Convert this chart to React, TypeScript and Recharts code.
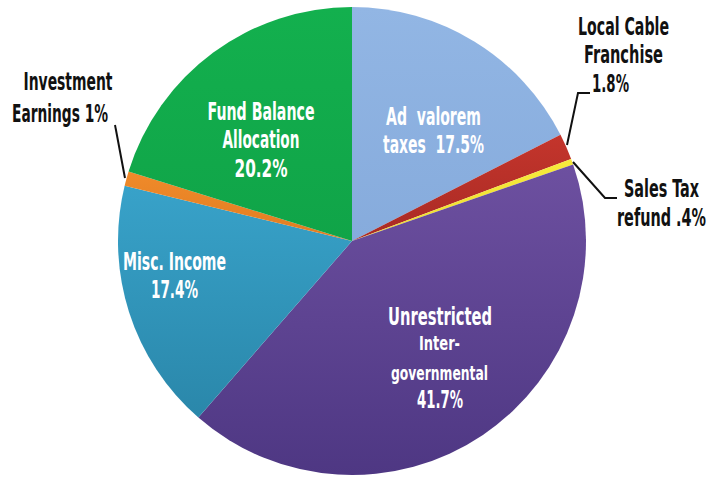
import React from "react";
import { PieChart, Pie, Cell } from "recharts";

const categories = [
  "Ad valorem taxes",
  "Local Cable Franchise",
  "Sales Tax refund",
  "Unrestricted Intergovernmental",
  "Misc. Income",
  "Investment Earnings",
  "Fund Balance Allocation",
];
const values = [17.5, 1.8, 0.4, 41.7, 17.4, 1, 20.2];
const labelLines: string[][] = [
  ["Ad  valorem", "taxes  17.5%"],
  ["Local Cable", "Franchise", "1.8%"],
  ["Sales Tax", "refund .4%"],
  ["Unrestricted", "Inter-", "governmental", "41.7%"],
  ["Misc. Income", "17.4%"],
  ["Investment", "Earnings 1%"],
  ["Fund Balance", "Allocation", "20.2%"],
];

const data = categories.map((name, i) => ({ name, value: values[i] }));

// styles & layout (relative to pie centre)
const colorsTop = ["#92b6e4", "#c4352c", "#f7ea3c", "#6d50a0", "#38a2c9", "#f08a2a", "#13b04e"];
const colorsBottom = ["#86abdc", "#a82a24", "#eedd30", "#4e3783", "#2a87aa", "#e07d22", "#10a448"];
const textColors = ["#fff", "#111", "#111", "#fff", "#fff", "#111", "#fff"];

type L = { dx: number; dy: number; w: number; fs: number };
const layout: L[][] = [
  [
    { dx: 81.5, dy: -116, w: 95, fs: 24 },
    { dx: 81.5, dy: -88, w: 101, fs: 24 },
  ],
  [
    { dx: 271.5, dy: -206, w: 91, fs: 24 },
    { dx: 271.5, dy: -178, w: 79, fs: 24 },
    { dx: 258.5, dy: -149, w: 37, fs: 24 },
  ],
  [
    { dx: 309.5, dy: -44, w: 75, fs: 24 },
    { dx: 309.5, dy: -15, w: 89, fs: 24 },
  ],
  [
    { dx: 88, dy: 84, w: 104, fs: 24 },
    { dx: 87.5, dy: 109, w: 41, fs: 20 },
    { dx: 87.5, dy: 139, w: 97, fs: 20 },
    { dx: 88, dy: 167, w: 46, fs: 24 },
  ],
  [
    { dx: -177.5, dy: 29, w: 103, fs: 24 },
    { dx: -177.5, dy: 57, w: 47, fs: 24 },
  ],
  [
    { dx: -284, dy: -151, w: 89, fs: 24 },
    { dx: -292, dy: -119, w: 96, fs: 24 },
  ],
  [
    { dx: -91, dy: -121, w: 107, fs: 24 },
    { dx: -91, dy: -93, w: 77, fs: 24 },
    { dx: -91, dy: -64, w: 53, fs: 24 },
  ],
];
const leaders: Record<number, number[][]> = {
  1: [[238, -148], [226, -148], [215, -96]],
  2: [[221, -79], [253, -43], [265, -43]],
  5: [[-237, -116], [-227, -63]],
};

const FONT =
  "'Liberation Sans Narrow', 'Arial Narrow', 'DejaVu Sans Condensed', 'Liberation Sans', sans-serif";

const renderLabel = (props: any) => {
  const { cx, cy, index } = props;
  const lines = labelLines[index];
  const lay = layout[index];
  const lead = leaders[index];
  return (
    <g key={`lbl-${index}`}>
      {lead && (
        <polyline
          points={lead.map(([x, y]) => `${cx + x},${cy + y}`).join(" ")}
          fill="none"
          stroke="#111"
          strokeWidth={2}
        />
      )}
      {lines.map((t, j) => (
        <text
          key={j}
          x={cx + lay[j].dx}
          y={cy + lay[j].dy}
          textAnchor="middle"
          fill={textColors[index]}
          fontFamily={FONT}
          fontWeight="bold"
          fontSize={lay[j].fs}
          textLength={lay[j].w}
          lengthAdjust="spacingAndGlyphs"
          style={{ whiteSpace: "pre" }}
        >
          {t}
        </text>
      ))}
    </g>
  );
};

export default function App() {
  return (
    <div
      style={{
        position: "absolute",
        left: 0,
        top: 0,
        width: 717,
        height: 483,
        background: "#fff",
      }}
    >
      <PieChart width={717} height={483} margin={{ top: 0, right: 0, bottom: 0, left: 0 }}>
        <defs>
          {colorsTop.map((c, i) => (
            <linearGradient key={i} id={`g${i}`} x1="0" y1="0" x2="0" y2="1">
              <stop offset="0%" stopColor={c} />
              <stop offset="100%" stopColor={colorsBottom[i]} />
            </linearGradient>
          ))}
        </defs>
        <Pie
          data={data}
          dataKey="value"
          nameKey="name"
          cx={352}
          cy={241}
          outerRadius={234}
          startAngle={90}
          endAngle={-270}
          stroke="none"
          isAnimationActive={false}
          label={renderLabel}
          labelLine={false}
        >
          {data.map((d, i) => (
            <Cell key={d.name} fill={`url(#g${i})`} />
          ))}
        </Pie>
      </PieChart>
    </div>
  );
}
